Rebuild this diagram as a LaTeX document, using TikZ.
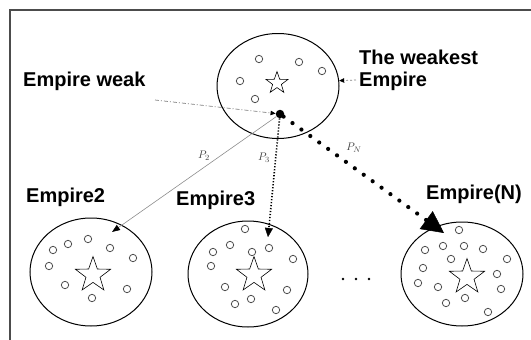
\documentclass[tikz,border=0pt]{standalone}
\usepackage{fontspec}
\setmainfont{Liberation Sans}
\usetikzlibrary{shapes.geometric,arrows.meta}
\begin{document}
\begin{tikzpicture}[x=1pt,y=-1pt,
  frame/.style={draw=black!70,line width=1.5pt},
  empire/.style={ellipse,draw,line width=1pt,inner sep=0pt,minimum width=122pt,minimum height=105pt},
  colony/.style={circle,draw=black!70,line width=0.8pt,inner sep=0pt,minimum size=7.4pt},
  imperialist/.style={star,star points=5,star point ratio=2.5,draw,line width=0.6pt,inner sep=0pt,minimum size=#1},
  imperialist/.default=37pt,
  title/.style={font=\fontsize{20}{22}\selectfont\bfseries,inner sep=0pt},
  plabel/.style={font=\fontsize{11}{12}\selectfont,text=black!75,inner sep=0pt},
  pointer/.style={draw=black!50,line width=0.7pt,dash pattern=on 4pt off 2pt on 1pt off 2pt,
    -{Triangle[length=5pt,width=4.5pt,color=black]}},
  ptwo/.style={draw=black!45,line width=0.6pt,-{Triangle[length=8pt,width=6pt,color=black]}},
  pthree/.style={draw=black,line width=1.6pt,dash pattern=on 1.2pt off 1.8pt,
    -{Triangle[length=9pt,width=8pt,line width=0.3pt]}},
  pn/.style={draw=black,line width=4.2pt,line cap=round,dash pattern=on 0pt off 11pt,
    -{Triangle[length=22pt,width=22pt,line width=0.5pt]}},
]
\useasboundingbox (0,0) rectangle (531,340);

% page frame (open to the right and bottom)
\draw[frame] (10,340) -- (10,10) -- (531,10);

% the weakest empire
\node[empire] (top) at (278,86) {};
\node[imperialist=23pt] (topstar) at (277,83) {};
\foreach \p [count=\i] in {(259,59),(299,62),(322,71),(240,81),(255,99)}
  \node[colony] (tc\i) at \p {};

% the other empires
\node[empire,minimum width=122pt,minimum height=108pt] (e2) at (91,272) {};
\node[imperialist] (s2) at (93,275) {};
\foreach \p [count=\i] in {(53,250),(68,244),(88,239),(110,248),(133,258),
                           (49,266),(65,285),(127,289),(92,298)}
  \node[colony] (c2\i) at \p {};

\node[empire,minimum width=120pt,minimum height=106pt] (e3) at (248,274) {};
\node[imperialist] (s3) at (254,275) {};
\foreach \p [count=\i] in {(245,229),(213,252),(230,245),(252,252),(269,248),(293,259),
                           (211,266),(225,287),(287,290),(235,304),(251,299),(276,310)}
  \node[colony] (c3\i) at \p {};

\node[empire,minimum width=122pt,minimum height=104pt] (eN) at (462,274) {};
\node[imperialist] (sN) at (467,277) {};
\foreach \p [count=\i] in {(459,230),(425,250),(443,246),(464,246),(483,249),(507,259),
                           (451,259),(423,268),(497,274),(418,283),(438,287),(501,289),
                           (465,298),(446,303),(488,312)}
  \node[colony] (cN\i) at \p {};

% ellipsis between Empire3 and Empire(N)
\foreach \x [count=\i] in {343,356,369}
  \node[circle,fill,inner sep=0pt,minimum size=2.6pt] (dots\i) at (\x,279) {};

% texts
\node[title,anchor=base west] (lweak) at (23,86) {Empire weak};
\node[title,anchor=north west,align=left] (lweakest) at (359,50) {The weakest\\Empire};
\node[title,anchor=base west] (l2) at (26,202) {Empire2};
\node[title,anchor=base west] (l3) at (176,205) {Empire3};
\node[title,anchor=base west] (lN) at (426,199) {Empire(N)};

% the selected colony
\node[circle,fill,inner sep=0pt,minimum size=8.5pt] (src) at (280,114) {};

% pointers of the labels
\coordinate (weaktail) at (155,100);
\coordinate (weakesttail) at (356,80);
\draw[pointer] (weaktail) -- (src);
\draw[pointer,dash pattern=on 2pt off 2pt] (weakesttail) -- (top.5);

% possession probabilities
\coordinate (t2) at (112,232);
\coordinate (t3) at (268,237);
\coordinate (tN) at (444,233);
\draw[ptwo] (src) -- (t2);
\draw[pthree] (src) -- (t3);
\draw[pn] (src) -- (tN);

\node[plabel] (p2) at (204,156) {$P_2$};
\node[plabel] (p3) at (264,158) {$P_3$};
\node[plabel] (pN) at (354,148) {$P_N$};
\end{tikzpicture}
\end{document}
